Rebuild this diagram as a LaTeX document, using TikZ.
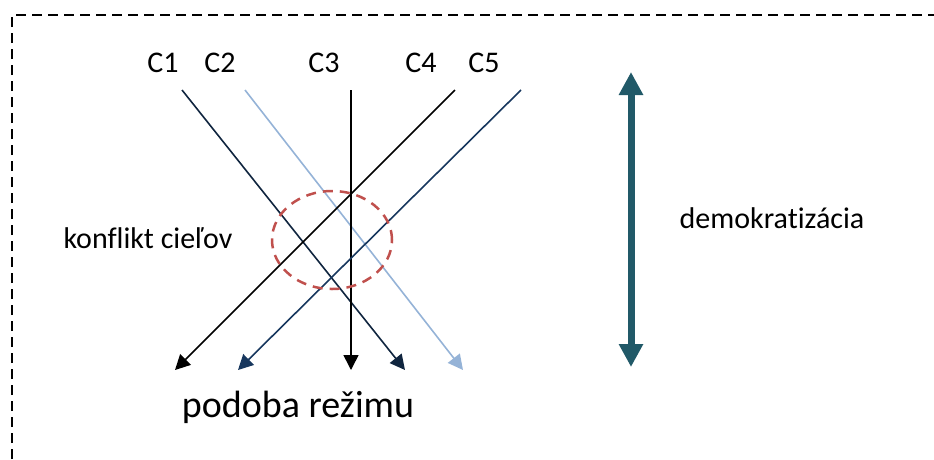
\documentclass[tikz,border=0pt]{standalone}
\usepackage{fontspec}
\setmainfont{Carlito}[Ligatures=NoCommon]
\usetikzlibrary{arrows.meta, positioning, shapes.geometric}
\definecolor{navy}{HTML}{10253F}
\definecolor{paleblue}{HTML}{95B3D7}
\definecolor{midblue}{HTML}{17375E}
\definecolor{teal}{HTML}{215968}
\definecolor{conflict}{HTML}{C0504D}

\begin{document}
\begin{tikzpicture}[x=1pt, y=-1pt,
    lbl/.style = {anchor=base, inner sep=0pt, font=\fontsize{30}{33}\selectfont},
    goal/.style = {line width=1.6pt, -{Triangle[width=15pt, length=15pt]}}]
    \useasboundingbox (0,0) rectangle (934,459);
    \draw[line width=2.5pt, dash pattern=on 10pt off 6pt] (12,459) -- (12,15) -- (934,15);
    \node[lbl] (C1) at (163,72) {C1}; \node[lbl] (C2) at (220,72) {C2}; \node[lbl] (C3) at (324,72) {C3};
    \node[lbl] (C4) at (421,72) {C4}; \node[lbl] (C5) at (484,72) {C5};
    \coordinate (s1) at (182,90); \coordinate (s2) at (245,90); \coordinate (s3) at (351,90);
    \coordinate (s4) at (455,90); \coordinate (s5) at (521,90);
    \coordinate (e1) at (405,370); \coordinate (e2) at (463,370); \coordinate (e3) at (351,370);
    \coordinate (e4) at (175,370); \coordinate (e5) at (238,370);
    \draw[goal, navy] (s1) -- (e1); \draw[goal, paleblue] (s2) -- (e2); \draw[goal, black] (s3) -- (e3);
    \draw[goal, black] (s4) -- (e4); \draw[goal, midblue] (s5) -- (e5);
    \node[draw=conflict, line width=2.5pt, dash pattern=on 10pt off 7pt, ellipse, inner sep=0pt, minimum width=120pt, minimum height=98pt] (clash) at (332,240) {};
    \node[lbl] (konf) at (148,248) {konflikt cieľov};
    \node[lbl] (demo) at (772,228) {demokratizácia};
    \node[lbl, font=\fontsize{38}{42}\selectfont] (rez) at (298,417) {podoba režimu};
    \coordinate (top) at (631,72); \coordinate (bottom) at (631,367);
    \draw[teal, line width=7pt, {Triangle[width=23pt, length=23pt]}-{Triangle[width=23pt, length=23pt]}] (top) -- (bottom);
  \end{tikzpicture}
\end{document}
